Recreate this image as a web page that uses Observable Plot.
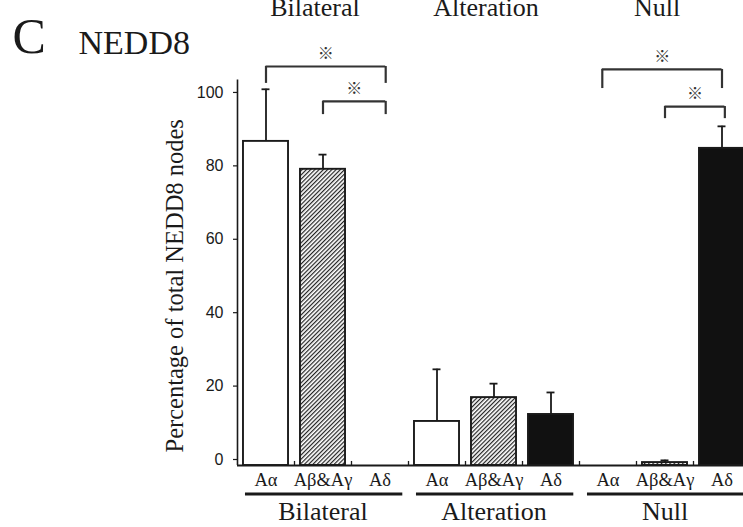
<!DOCTYPE html>
<html>
<head>
<meta charset="utf-8">
<script src="https://cdn.jsdelivr.net/npm/d3@7"></script>
<script src="https://cdn.jsdelivr.net/npm/@observablehq/plot@0.6"></script>
<style>
  html, body { margin: 0; padding: 0; background: white; overflow: hidden; }
  #chart { width: 743px; height: 527px; }
</style>
</head>
<body>
<div id="chart"></div>
<script>
// ---- data ----
const groups = ["Bilateral", "Alteration", "Null"];
const subtypes = ["Aα", "Aβ&Aγ", "Aδ"];
const meanBilateral = [88.3, 80.7, 0];
const meanAlteration = [12.0, 18.5, 13.9];
const meanNull = [0, 0.8, 86.4];
const sdBilateral = [14.2, 4.0, 0];
const sdAlteration = [14.2, 3.8, 6.0];
const sdNull = [0, 0.6, 6.0];
const yTicks = [0, 20, 40, 60, 80, 100];
const yLabel = "Percentage of total NEDD8 nodes";
const panelLetter = "C";
const panelTitle = "NEDD8";
const sigMark = "※";
// significance brackets (slot positions, y in %)
const bracketFrom = [0.5, 1.5, 6.4, 7.5];
const bracketTo = [2.6, 2.6, 8.5, 8.55];
const bracketTop = [108.7, 99.2, 107.9, 97.8];
const bracketFoot = [104.1, 95.6, 102.7, 94.5];

// ---- build tables ----
const means = [meanBilateral, meanAlteration, meanNull];
const sds = [sdBilateral, sdAlteration, sdNull];
const rows = [];
groups.forEach((g, gi) => subtypes.forEach((s, si) => {
  const i = gi * 3 + si;
  rows.push({group: g, subtype: s, mean: means[gi][si], sd: sds[gi][si], slot: i});
}));
const bars = rows.filter(d => d.mean > 0);
const errs = rows.filter(d => d.sd > 0);
const groupRows = groups.map((g, gi) => ({group: g, start: gi * 3, end: gi * 3 + 3}));
const brackets = bracketFrom.map((a, i) => ({a, b: bracketTo[i], top: bracketTop[i], foot: bracketFoot[i]}));

const serif = "'Liberation Serif', 'Times New Roman', serif";
const sans = "'Liberation Sans', Arial, sans-serif";
const ink = "#1a1a1a";

const plot = Plot.plot({
  width: 743,
  height: 527,
  marginLeft: 237,
  marginRight: -7,
  marginTop: 79.6,
  marginBottom: 62,
  style: {background: "white", color: ink},
  x: {domain: [0, 9], axis: null},
  y: {domain: [0, 105], axis: null},
  color: {type: "ordinal", domain: subtypes, range: ["white", "url(#hatch)", "#111"]},
  marks: [
    // y axis
    Plot.axisY({ticks: yTicks, tickSize: 4, tickPadding: 10, fontSize: 16, fontFamily: sans, dy: -6, stroke: ink, strokeWidth: 1.2}),
    Plot.ruleX([0], {y1: 0, y2: 105, stroke: ink, strokeWidth: 1.6}),
    // bars
    Plot.rectY(bars, {x1: d => d.slot + 0.105, x2: d => d.slot + 0.895, y1: 0, y2: "mean", fill: "subtype", stroke: ink, strokeWidth: 1.9}),
    // error bars
    Plot.ruleX(errs, {x: d => d.slot + 0.5, y1: "mean", y2: d => d.mean + d.sd, stroke: ink, strokeWidth: 1.8}),
    Plot.ruleY(errs, {x1: d => d.slot + 0.43, x2: d => d.slot + 0.57, y: d => d.mean + d.sd, stroke: ink, strokeWidth: 1.8}),
    // baseline and slot ticks
    Plot.ruleY([0], {x1: 0, x2: 9, stroke: ink, strokeWidth: 2}),
    Plot.ruleX(d3.range(1, 9), {y1: 0, y2: 1.1, stroke: ink, strokeWidth: 1.3}),
    // x labels
    Plot.text(rows, {x: d => d.slot + 0.5, y: 0, text: "subtype", dy: 20, lineAnchor: "bottom", fontSize: 18.5, fontFamily: serif, fill: ink}),
    Plot.ruleY(groupRows, {x1: d => d.start + 0.14, x2: d => d.end - 0.1, y: 0, dy: 28.5, stroke: ink, strokeWidth: 3.2}),
    Plot.text(groupRows, {x: d => (d.start + d.end) / 2, y: 0, text: "group", dy: 54, lineAnchor: "bottom", fontSize: 26, fontFamily: serif, fill: ink}),
    // top group labels (cut at top edge, as in the reference)
    Plot.text(groupRows, {x: d => (d.start + d.end) / 2, frameAnchor: "top", text: "group", dx: -8, dy: -64, lineAnchor: "bottom", fontSize: 26, fontFamily: serif, fill: ink}),
    // significance brackets
    Plot.ruleY(brackets, {x1: "a", x2: "b", y: "top", stroke: "#333", strokeWidth: 2.2}),
    Plot.ruleX(brackets, {x: "a", y1: "foot", y2: "top", stroke: "#333", strokeWidth: 2.2}),
    Plot.ruleX(brackets, {x: "b", y1: "foot", y2: "top", stroke: "#333", strokeWidth: 2.2}),
    Plot.text(brackets, {x: d => (d.a + d.b) / 2, y: "top", dy: -13, text: () => sigMark, fontSize: 16, fontWeight: "bold", fontFamily: "'Noto Sans CJK JP', 'DejaVu Sans', sans-serif", fill: "#333"}),
    // y label
    Plot.text([yLabel], {frameAnchor: "left", text: d => d, rotate: -90, dx: -62, dy: 13, fontSize: 24.5, fontFamily: serif, fill: ink, textAnchor: "middle", lineAnchor: "middle"}),
    // panel titles
    Plot.text([panelLetter], {frameAnchor: "top-left", text: d => d, dx: -225, dy: -27.6, lineAnchor: "bottom", textAnchor: "start", fontSize: 50, fontFamily: serif, fill: ink}),
    Plot.text([panelTitle], {frameAnchor: "top-left", text: d => d, dx: -159, dy: -26.6, lineAnchor: "bottom", textAnchor: "start", fontSize: 34, fontFamily: serif, fill: ink})
  ]
});

// hatch pattern
const svgSel = d3.select(plot);
const defs = svgSel.insert("defs", ":first-child");
const pat = defs.append("pattern")
  .attr("id", "hatch")
  .attr("patternUnits", "userSpaceOnUse")
  .attr("width", 3).attr("height", 3)
  .attr("patternTransform", "rotate(45)");
pat.append("rect").attr("width", 3).attr("height", 3).attr("fill", "white");
pat.append("line").attr("x1", 0.6).attr("y1", 0).attr("x2", 0.6).attr("y2", 3).attr("stroke", "#222").attr("stroke-width", 1.2);

document.getElementById("chart").appendChild(plot);
</script>
</body>
</html>
